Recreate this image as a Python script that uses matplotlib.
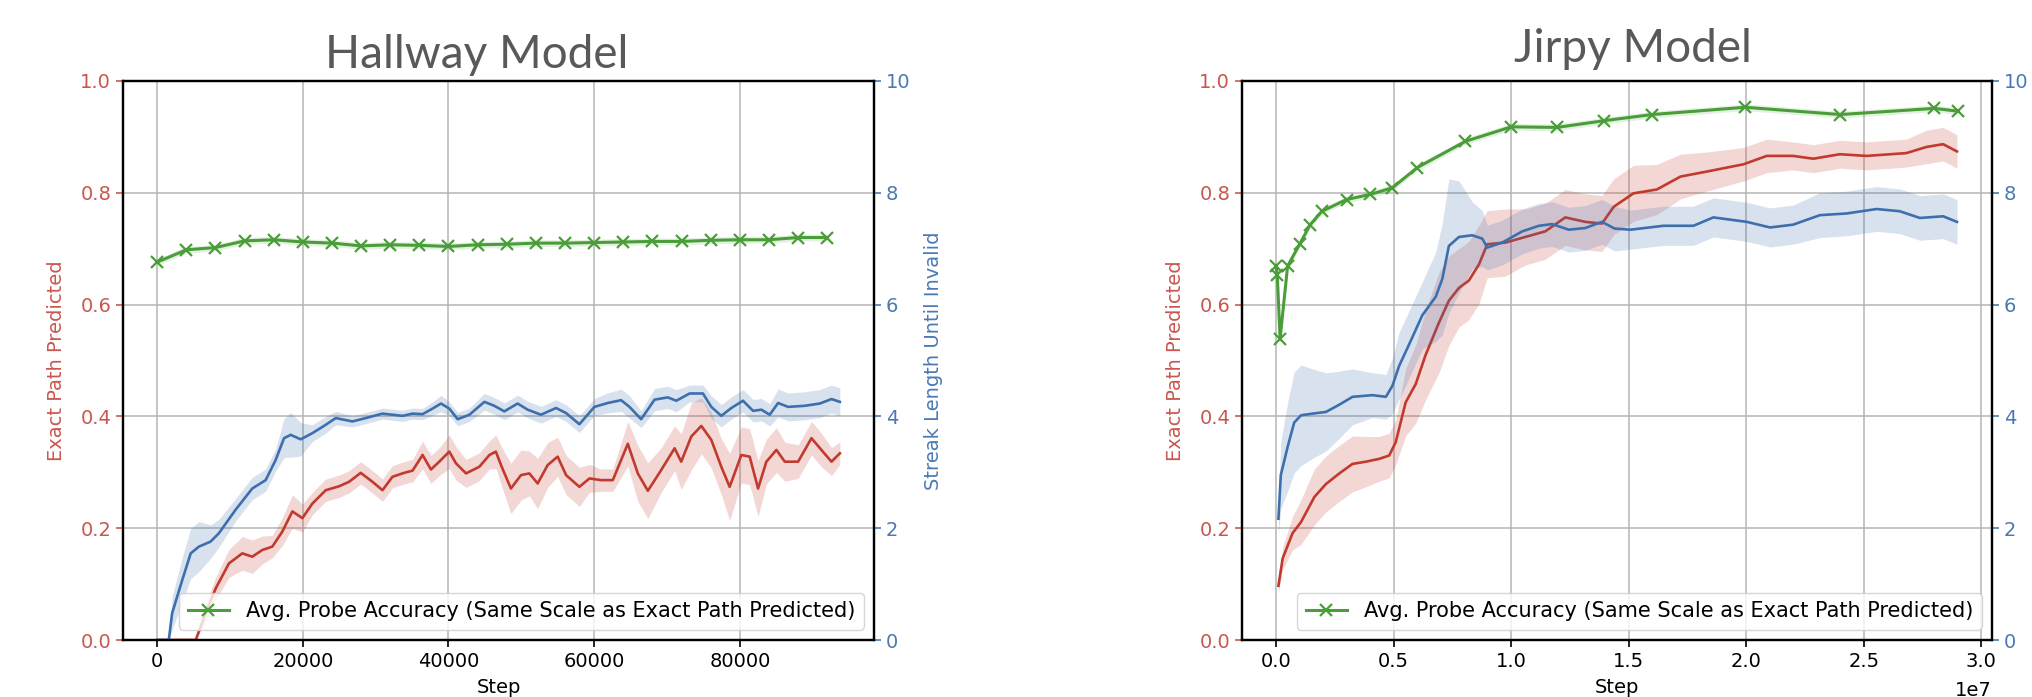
import numpy as np
import matplotlib
matplotlib.use("Agg")
import matplotlib.pyplot as plt
import matplotlib.transforms as mtransforms

# ---------------- Hallway model data ----------------
hall_red_steps = [0, 5300, 6650, 8030, 9860, 11690, 13060, 14440, 15810, 17190,
                  18570, 19940, 21310, 23150, 24980, 26350, 27950, 29560, 30940, 32310,
                  33910, 35070, 36440, 37590, 38730, 40110, 41030, 42410, 44240, 45620,
                  46500, 47300, 48570, 49950, 51100, 52240, 53620, 54990, 56140, 57970,
                  59350, 60950, 62560, 64620, 65990, 67370, 69200, 71040, 71950, 73330,
                  74710, 76080, 77450, 78600, 80200, 81350, 82500, 83640, 85020, 86170,
                  88000, 89830, 91200, 92580, 93730]
hall_red = [0, 0, .048, .092, .137, .155, .149, .161, .167, .194,
            .230, .218, .244, .268, .275, .283, .299, .283, .268, .292,
            .299, .303, .331, .305, .319, .337, .316, .298, .310, .331,
            .337, .310, .271, .295, .298, .280, .313, .328, .295, .274,
            .289, .286, .286, .351, .298, .267, .304, .343, .319, .364,
            .383, .358, .310, .274, .331, .328, .271, .319, .340, .319,
            .319, .361, .340, .319, .334]
hall_red_spread = [0, 0, .015, .02, .025, .03, .03, .025, .02, .025,
                   .03, .025, .02, .02, .02, .02, .02, .02, .02, .02,
                   .02, .02, .025, .025, .025, .03, .03, .025, .025, .025,
                   .03, .035, .045, .045, .04, .045, .04, .035, .035, .035,
                   .025, .02, .02, .04, .05, .05, .04, .04, .05, .06,
                   .05, .05, .05, .06, .05, .05, .05, .04, .04, .035,
                   .03, .03, .03, .025, .02]

hall_blue_steps = [0, 1600, 2060, 3440, 4610, 5730, 7330, 8480, 10770, 13060,
                   14900, 16270, 17420, 18330, 19710, 21310, 23150, 24520, 26810, 28650,
                   30940, 33690, 35070, 36440, 37820, 38970, 40110, 41260, 42870, 44930,
                   46280, 47660, 49490, 50870, 52700, 54760, 56140, 57970, 60030, 61870,
                   63700, 64850, 66450, 68290, 70120, 71270, 73100, 74930, 76080, 77450,
                   78830, 80430, 81810, 82960, 84100, 85250, 86620, 88910, 90980, 92580,
                   93730]
hall_blue = [0, 0, 0.48, 1.07, 1.55, 1.67, 1.76, 1.91, 2.33, 2.71,
             2.86, 3.22, 3.61, 3.67, 3.59, 3.70, 3.85, 3.97, 3.91, 3.97,
             4.05, 4.01, 4.05, 4.04, 4.14, 4.23, 4.14, 3.95, 4.03, 4.26,
             4.19, 4.09, 4.23, 4.12, 4.03, 4.15, 4.06, 3.86, 4.17, 4.24,
             4.29, 4.17, 3.95, 4.30, 4.34, 4.28, 4.41, 4.41, 4.17, 4.01,
             4.15, 4.28, 4.10, 4.12, 4.03, 4.24, 4.17, 4.19, 4.23, 4.31,
             4.26]
hall_blue_spread = [0, 0, 0.3, 0.4, 0.45, 0.45, 0.3, 0.25, 0.2, 0.2,
                    0.2, 0.2, 0.35, 0.4, 0.3, 0.15, 0.15, 0.12, 0.1, 0.1,
                    0.1, 0.1, 0.1, 0.1, 0.12, 0.15, 0.12, 0.12, 0.12, 0.15,
                    0.15, 0.15, 0.15, 0.15, 0.15, 0.15, 0.15, 0.15, 0.15, 0.18,
                    0.2, 0.2, 0.15, 0.2, 0.2, 0.2, 0.15, 0.15, 0.2, 0.2,
                    0.2, 0.2, 0.2, 0.2, 0.2, 0.25, 0.25, 0.25, 0.25, 0.25,
                    0.25]

hall_probe_steps = [0, 4000, 8000, 12000, 16000, 20000, 24000, 28000, 32000, 36000,
                    40000, 44000, 48000, 52000, 56000, 60000, 64000, 68000, 72000, 76000,
                    80000, 84000, 88000, 92000]
hall_probe = [0.676, 0.698, 0.702, 0.714, 0.716, 0.712, 0.710, 0.705, 0.707, 0.706,
              0.704, 0.707, 0.708, 0.710, 0.710, 0.711, 0.712, 0.713, 0.713, 0.715,
              0.716, 0.716, 0.720, 0.720]

# ---------------- Jirpy model data (steps in units of 1e7) ----------------
jirpy_red_steps = [0.010, 0.028, 0.07, 0.106, 0.163, 0.212, 0.269, 0.325, 0.382, 0.438,
                   0.481, 0.509, 0.551, 0.594, 0.636, 0.693, 0.735, 0.778, 0.820, 0.863,
                   0.898, 0.976, 1.06, 1.145, 1.23, 1.315, 1.386, 1.436, 1.52, 1.62,
                   1.72, 1.832, 1.988, 2.087, 2.199, 2.285, 2.398, 2.511, 2.681, 2.766,
                   2.837, 2.896]
jirpy_red = [0.097, 0.146, 0.191, 0.211, 0.256, 0.279, 0.298, 0.315, 0.319, 0.324,
             0.330, 0.354, 0.425, 0.458, 0.510, 0.568, 0.607, 0.630, 0.643, 0.672,
             0.708, 0.711, 0.721, 0.731, 0.756, 0.748, 0.745, 0.775, 0.799, 0.806,
             0.829, 0.838, 0.851, 0.866, 0.866, 0.861, 0.869, 0.866, 0.871, 0.882,
             0.887, 0.874]
jirpy_red_spread = [0.01, 0.02, 0.03, 0.04, 0.05, 0.05, 0.05, 0.05, 0.045, 0.04,
                    0.04, 0.04, 0.06, 0.07, 0.08, 0.09, 0.08, 0.07, 0.07, 0.07,
                    0.06, 0.06, 0.05, 0.05, 0.05, 0.05, 0.05, 0.05, 0.05, 0.045,
                    0.04, 0.035, 0.03, 0.03, 0.025, 0.025, 0.025, 0.025, 0.025, 0.03,
                    0.03, 0.03]

jirpy_blue_steps = [0.010, 0.02, 0.05, 0.077, 0.106, 0.155, 0.212, 0.269, 0.325, 0.410,
                    0.467, 0.495, 0.523, 0.566, 0.622, 0.679, 0.707, 0.735, 0.778, 0.834,
                    0.877, 0.898, 0.962, 1.047, 1.118, 1.174, 1.245, 1.315, 1.386, 1.44,
                    1.507, 1.648, 1.775, 1.860, 2.002, 2.101, 2.199, 2.313, 2.426, 2.554,
                    2.653, 2.738, 2.837, 2.896]
jirpy_blue = [2.17, 2.95, 3.47, 3.89, 4.02, 4.05, 4.08, 4.21, 4.35, 4.38,
              4.35, 4.55, 4.90, 5.29, 5.81, 6.14, 6.46, 7.05, 7.21, 7.24,
              7.18, 7.02, 7.11, 7.31, 7.41, 7.44, 7.34, 7.37, 7.48, 7.36,
              7.34, 7.41, 7.41, 7.56, 7.48, 7.38, 7.43, 7.60, 7.63, 7.71,
              7.67, 7.55, 7.58, 7.48]
jirpy_blue_spread = [0.3, 0.6, 0.8, 0.9, 0.9, 0.8, 0.7, 0.6, 0.5, 0.4,
                     0.4, 0.5, 0.6, 0.6, 0.6, 0.8, 1.0, 1.2, 1.0, 0.6,
                     0.5, 0.4, 0.4, 0.4, 0.4, 0.4, 0.4, 0.4, 0.4, 0.4,
                     0.35, 0.35, 0.35, 0.35, 0.35, 0.35, 0.35, 0.4, 0.4, 0.4,
                     0.4, 0.4, 0.4, 0.4]

jirpy_probe_steps = [0.0, 0.005, 0.017, 0.049, 0.1, 0.145, 0.195, 0.3, 0.4, 0.495,
                     0.6, 0.805, 1.0, 1.195, 1.395, 1.6, 1.995, 2.4, 2.8, 2.9]
jirpy_probe = [0.669, 0.653, 0.539, 0.669, 0.708, 0.743, 0.767, 0.788, 0.797, 0.809,
               0.845, 0.892, 0.918, 0.917, 0.929, 0.940, 0.953, 0.940, 0.951, 0.946]

titles = ["Hallway Model", "Jirpy Model"]
legend_label = "Avg. Probe Accuracy (Same Scale as Exact Path Predicted)"

# ---------------- styling ----------------
RED = "#c23a2e"
BLUE = "#3d6fad"
GREEN = "#4a9e3a"
RED_TXT = "#c9574f"
BLUE_TXT = "#4a79b4"
GRID = "#b5b5b5"

fig = plt.figure(figsize=(20.32, 6.97), dpi=100)
W, H = 2032, 697


def draw_panel(px_left, px_right, red_x, red_y, red_s, blue_x, blue_y, blue_s,
               probe_x, probe_y, xscale=1.0, right_label=True):
    ax = fig.add_axes([px_left / W, (H - 640) / H, (px_right - px_left) / W, 559 / H])
    ax2 = ax.twinx()
    rx = np.asarray(red_x) * xscale
    ry = np.asarray(red_y)
    rs = np.asarray(red_s)
    bx = np.asarray(blue_x) * xscale
    by = np.asarray(blue_y)
    bs = np.asarray(blue_s)
    gx = np.asarray(probe_x) * xscale
    gy = np.asarray(probe_y)

    ax.fill_between(rx, np.clip(ry - rs, 0, None), ry + rs, color=RED, alpha=0.2, lw=0)
    ax.plot(rx, ry, color=RED, lw=1.9)
    ax.fill_between(gx, gy - 0.006, gy + 0.006, color=GREEN, alpha=0.15, lw=0)
    gline, = ax.plot(gx, gy, color=GREEN, lw=2.2, marker="x", ms=9, mew=1.6,
                     label=legend_label)
    ax2.fill_between(bx, np.clip(by - bs, 0, None), by + bs, color=BLUE, alpha=0.2, lw=0)
    ax2.plot(bx, by, color=BLUE, lw=1.9)

    ax.set_ylim(0, 1)
    ax2.set_ylim(0, 10)
    ax.set_yticks([0, 0.2, 0.4, 0.6, 0.8, 1.0])
    ax2.set_yticks([0, 2, 4, 6, 8, 10])
    ax.grid(True, color=GRID, lw=1.1)
    ax.set_axisbelow(True)

    ax.tick_params(axis="y", colors=RED_TXT, labelsize=14, width=1.2, length=5)
    ax2.tick_params(axis="y", colors=BLUE_TXT, labelsize=14, width=1.2, length=5)
    ax.tick_params(axis="x", labelsize=14, width=1.2, length=5)
    off = ax.xaxis.get_offset_text()
    off.set_fontsize(14)
    off.set_transform(mtransforms.blended_transform_factory(ax.transAxes,
                                                             mtransforms.IdentityTransform())
                      + mtransforms.ScaledTranslation(0, -0.06, fig.dpi_scale_trans))

    ax.set_ylabel("Exact Path Predicted", color=RED_TXT, fontsize=14, labelpad=10)
    if right_label:
        ax2.set_ylabel("Streak Length Until Invalid", color=BLUE_TXT, fontsize=14,
                       labelpad=10)
    ax.set_xlabel("Step", fontsize=14, labelpad=5)

    for a in (ax, ax2):
        for sp in a.spines.values():
            sp.set_color("black")
            sp.set_linewidth(1.6)

    ax2.legend(handles=[gline], loc="lower right", fontsize=15)
    return ax, ax2


draw_panel(123, 874, hall_red_steps, hall_red, hall_red_spread,
           hall_blue_steps, hall_blue, hall_blue_spread,
           hall_probe_steps, hall_probe)
draw_panel(1242, 1992, jirpy_red_steps, jirpy_red, jirpy_red_spread,
           jirpy_blue_steps, jirpy_blue, jirpy_blue_spread,
           jirpy_probe_steps, jirpy_probe, xscale=1e7, right_label=False)

fig.text(477 / W, (H - 68) / H, titles[0], fontsize=33, family="Lato",
         color="#595959", ha="center", va="baseline")
fig.text(1633 / W, (H - 62) / H, titles[1], fontsize=33, family="Lato",
         color="#595959", ha="center", va="baseline")

fig.savefig("out.png", dpi=100)
